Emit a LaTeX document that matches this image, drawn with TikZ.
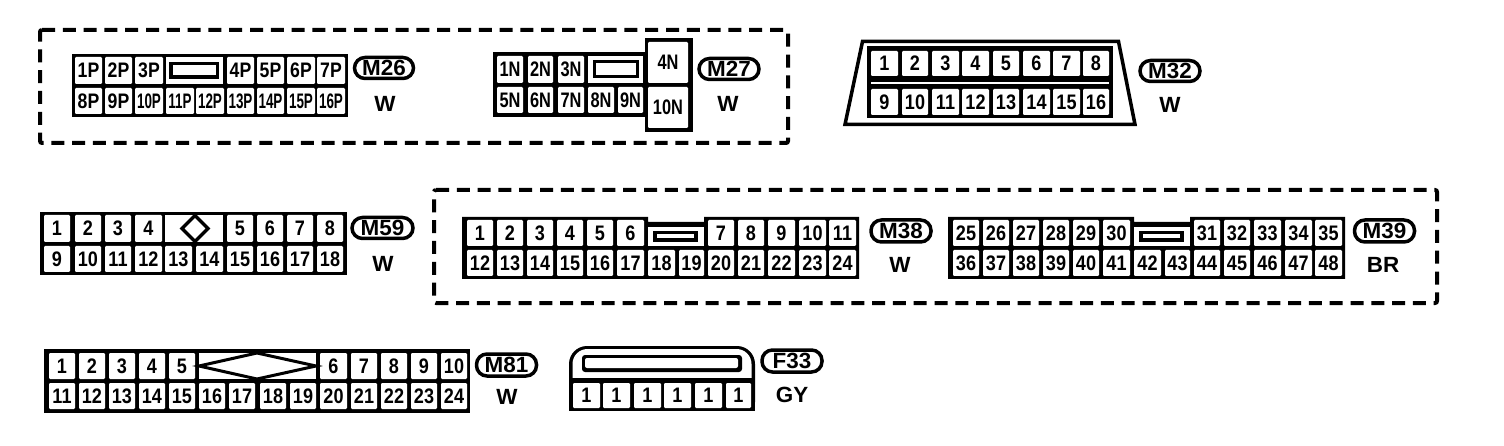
\documentclass[tikz,border=0pt]{standalone}
\usepackage{fontspec}
\setmainfont{Liberation Sans}
\newfontfamily\numfont[FakeStretch=0.86]{Liberation Sans}
\newfontfamily\pinfont[FakeStretch=0.84]{Liberation Sans}
\newfontfamily\pintwofont[FakeStretch=0.64]{Liberation Sans}
\newfontfamily\nfont[FakeStretch=0.78]{Liberation Sans}
\newfontfamily\tagfont[FakeStretch=1.02]{Liberation Sans}
\tikzset{
  cell/.style={rectangle,fill=white,rounded corners=1.2pt,inner sep=0pt,outer sep=0pt,text=black,font=\numfont\bfseries\fontsize{21}{21}\selectfont},
  pincell/.style={cell,font=\pinfont\bfseries\fontsize{21}{21}\selectfont},
  pintwocell/.style={cell,font=\pintwofont\bfseries\fontsize{21}{21}\selectfont},
  ncell/.style={cell,font=\nfont\bfseries\fontsize{21}{21}\selectfont},
  tagoval/.style={rectangle,rounded corners=10.5pt,draw=black,line width=3.5pt,fill=white,inner sep=0pt,font=\tagfont\bfseries\fontsize{22}{22}\selectfont},
  colour/.style={inner sep=0pt,font=\tagfont\bfseries\fontsize{22}{22}\selectfont},
  groupbox/.style={draw=black,line width=4pt,dash pattern=on 13pt off 7.8pt,rounded corners=2pt},
  shell/.style={fill=black},
  hollow/.style={fill=white},
}
\newcommand{\cellrow}[5]{% prefix, style, y0, y1, list x0/x1/text
  \foreach \a/\b/\t in {#5}{
    \node[#2,minimum width={(\b-\a)*1pt},minimum height={(#4-#3)*1pt}] (#1-\a) at ({(\a+\b)/2},{(#3+#4)/2}) {\t};
  }
}
\begin{document}
\begin{tikzpicture}[x=1pt,y=-1pt]
\useasboundingbox (0,0) rectangle (1504,446);
\fill[white] (0,0) rectangle (1504,446);

% dashed groups
\draw[groupbox] (40,30) -- (788,30) -- (788,143) -- (40,143) -- cycle;
\draw[groupbox] (434,190) -- (1437,190) -- (1437,303) -- (434,303) -- cycle;

% M26
\fill[shell] (72,54) rectangle (348,117);
\cellrow{M26t}{pincell}{57}{84}{75/102/1P,105/132/2P,135/163/3P,227/254/4P,257/284/5P,287/315/6P,317/345/7P}
\fill[hollow] (166,57) rectangle (223,84);
\fill[shell] (169,62) rectangle (219,79);
\fill[hollow] (173,65) rectangle (216,75);
\cellrow{M26a}{pincell}{88}{114}{75/102/8P,105/132/9P}
\cellrow{M26b}{pintwocell}{88}{114}{135/163/10P,166/194/11P,196/224/12P,227/254/13P,257/284/14P,287/315/15P,317/345/16P}
\node[tagoval,minimum width=59pt,minimum height=21pt] (M26) at (384,68) {M26};
\node[colour] (M26c) at (385,104) {W};

% M27
\fill[shell] (493,52) rectangle (660,117);
\fill[shell] (645,38) rectangle (693,132);
\cellrow{M27t}{ncell}{56}{83}{497/523/1N,528/553/2N,558/584/3N}
\fill[hollow] (588,56) rectangle (643,83);
\fill[shell] (593,60) rectangle (639,78);
\fill[hollow] (596,63) rectangle (636,75);
\cellrow{M27b}{ncell}{87}{113}{497/523/5N,528/553/6N,558/584/7N,588/614/8N,618/643/9N}
\cellrow{M27u}{ncell}{42}{83}{648/688/4N}
\cellrow{M27d}{ncell}{87}{128}{648/688/10N}
\node[tagoval,minimum width=60pt,minimum height=21pt] (M27) at (729,69) {M27};
\node[colour] (M27c) at (728,104) {W};

% M32
\draw[black,line width=3.5pt,fill=white] (862.5,41.5) -- (1118.5,41.5) -- (1135,124.5) -- (845,124.5) -- cycle;
\fill[shell] (867,46) rectangle (1113,118);
\cellrow{M32t}{cell}{51}{76}{871/898/1,902/928/2,932/959/3,962/989/4,993/1019/5,1023/1050/6,1053/1080/7,1083/1109/8}
\fill[hollow] (871,82) rectangle (1109,84);
\cellrow{M32b}{cell}{89}{115}{871/898/9,902/928/10,932/959/11,962/989/12,993/1019/13,1023/1050/14,1053/1080/15,1083/1109/16}
\node[tagoval,minimum width=60pt,minimum height=21pt] (M32) at (1170,71) {M32};
\node[colour] (M32c) at (1170,105) {W};

% M59
\fill[shell] (40,212) rectangle (347,275);
\cellrow{M59t}{cell}{215}{242}{44/70/1,75/101/2,105/131/3,135/162/4,227/253/5,257/283/6,287/313/7,317/343/8}
\fill[hollow] (165,215) rectangle (223,242);
\draw[black,line width=3.5pt,fill=white] (195,215.5) -- (208,228.5) -- (195,241.5) -- (182,228.5) -- cycle;
\cellrow{M59b}{cell}{246}{272}{44/70/9,75/101/10,105/131/11,135/162/12,165/192/13,196/223/14,227/253/15,257/283/16,287/313/17,317/343/18}
\node[tagoval,minimum width=61pt,minimum height=21pt] (M59) at (382.5,228) {M59};
\node[colour] (M59c) at (383,264) {W};

% M38
\fill[shell] (462,217) -- (648,217) -- (648,222) -- (704,222) -- (704,217) -- (859,217) -- (859,279) -- (462,279) -- cycle;
\cellrow{M38t}{cell}{220}{246}{467/493/1,497/523/2,527/553/3,557/583/4,587/613/5,617/644/6,708/734/7,738/764/8,768/795/9,799/826/10,829/856/11}
\fill[hollow] (648,227) rectangle (704,246);
\fill[shell] (653,231) rectangle (698,242);
\fill[hollow] (657,234.5) rectangle (694,238);
\cellrow{M38b}{cell}{250}{276}{467/493/12,497/523/13,527/553/14,557/583/15,587/613/16,617/644/17,648/675/18,679/704/19,708/734/20,738/764/21,768/795/22,799/826/23,829/856/24}
\node[tagoval,minimum width=60pt,minimum height=22pt] (M38) at (901,231) {M38};
\node[colour] (M38c) at (900,265) {W};

% M39
\fill[shell] (948,217) -- (1134,217) -- (1134,222) -- (1190,222) -- (1190,217) -- (1345,217) -- (1345,279) -- (948,279) -- cycle;
\cellrow{M39t}{cell}{220}{246}{953/979/25,983/1009/26,1013/1039/27,1043/1069/28,1073/1099/29,1103/1130/30,1194/1220/31,1224/1250/32,1254/1281/33,1285/1312/34,1315/1342/35}
\fill[hollow] (1134,227) rectangle (1190,246);
\fill[shell] (1139,231) rectangle (1184,242);
\fill[hollow] (1143,234.5) rectangle (1180,238);
\cellrow{M39b}{cell}{250}{276}{953/979/36,983/1009/37,1013/1039/38,1043/1069/39,1073/1099/40,1103/1130/41,1134/1161/42,1165/1190/43,1194/1220/44,1224/1250/45,1254/1281/46,1285/1312/47,1315/1342/48}
\node[tagoval,minimum width=60pt,minimum height=22pt] (M39) at (1384.5,231) {M39};
\node[colour] (M39c) at (1383,265) {BR};

% M81
\fill[shell] (44,349) rectangle (470,413);
\cellrow{M81t}{cell}{353}{379}{49/75/1,79/105/2,109/135/3,139/165/4,169/195/5,320/347/6,351/377/7,381/407/8,411/437/9,441/467/10}
\fill[hollow] (199,353) rectangle (316,379);
\draw[black,line width=3pt,fill=white] (257,353) -- (316,366) -- (257,379) -- (199,366) -- cycle;
\cellrow{M81b}{cell}{383}{409}{49/75/11,79/105/12,109/135/13,139/165/14,169/195/15,199/225/16,229/255/17,260/286/18,290/316/19,320/347/20,351/377/21,381/407/22,411/437/23,441/467/24}
\node[tagoval,minimum width=60pt,minimum height=22pt] (M81) at (506.5,365) {M81};
\node[colour] (M81c) at (507,397) {W};

% F33
\fill[shell,rounded corners=18pt] (569,420) -- (569,346) -- (755,346) -- (755,420) -- cycle;
\fill[white] (560,411) rectangle (765,425);
\fill[hollow,rounded corners=15pt] (572.5,395) -- (572.5,349) -- (751.5,349) -- (751.5,395) -- cycle;
\fill[shell] (569,378) rectangle (755,411);
\fill[shell,rounded corners=3pt] (582,355) rectangle (742,372);
\fill[hollow,rounded corners=2pt] (585,358) rectangle (738,368);
\cellrow{F33c}{cell}{383}{408}{573/600/1,603/630/1,634/661/1,664/691/1,695/722/1,726/751/1}
\node[tagoval,minimum width=60pt,minimum height=22pt] (F33) at (792,361) {F33};
\node[colour] (F33c) at (792,395) {GY};
\end{tikzpicture}
\end{document}
